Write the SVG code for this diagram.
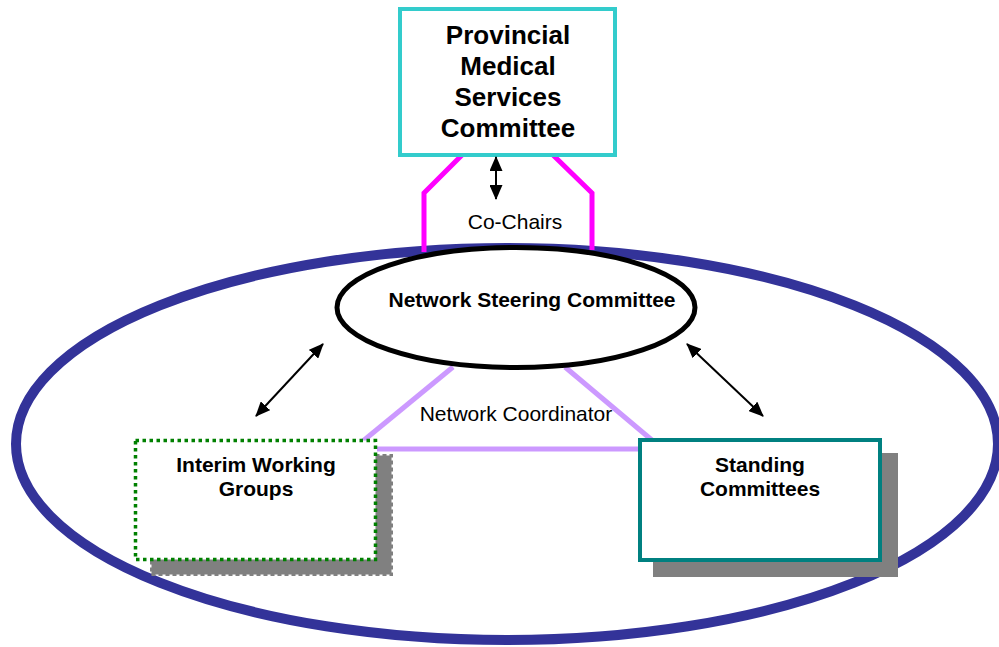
<svg xmlns="http://www.w3.org/2000/svg" width="999" height="647" viewBox="0 0 999 647">
  <style>
    .lbl { font-family: "Liberation Sans", Arial, sans-serif; fill: #000; text-anchor: middle; }
    .b { font-weight: bold; }
    .coord { fill: none; stroke: #CC99FF; stroke-width: 5; }
    .chair { fill: none; stroke: #FF00FF; stroke-width: 5; }
    .arrow { fill: none; stroke: #000; stroke-width: 2; marker-start: url(#ah); marker-end: url(#ah); }
    .shadow { fill: #808080; }
  </style>
  <defs>
    <marker id="ah" viewBox="0 0 15 13" refX="14" refY="6.5" markerWidth="15" markerHeight="13" markerUnits="userSpaceOnUse" orient="auto-start-reverse">
      <path d="M0,0 L15,6.5 L0,13 z" fill="#000"/>
    </marker>
  </defs>
  <rect width="999" height="647" fill="#fff"/>

  <!-- network boundary -->
  <g id="network">
    <ellipse cx="507" cy="444" rx="491" ry="196" fill="none" stroke="#333399" stroke-width="10"/>
  </g>

  <!-- coordinator triangle -->
  <g id="coordinator-links">
    <path class="coord" d="M453,367 L363,441"/>
    <path class="coord" d="M565,367 L653,441"/>
    <path class="coord" d="M377,449 L640,449"/>
  </g>

  <g id="interim-working-groups">
    <rect class="shadow" x="151.5" y="455.5" width="240" height="119" stroke="#808080" stroke-width="3" stroke-dasharray="4 3"/>
    <rect x="135.5" y="440.5" width="240" height="119" fill="#fff" stroke="#008000" stroke-width="3.5" stroke-dasharray="3.5 3.5"/>
    <text class="lbl b" font-size="21" x="256" y="472">Interim Working</text>
    <text class="lbl b" font-size="21" x="256" y="496">Groups</text>
  </g>

  <g id="standing-committees">
    <rect class="shadow" x="653" y="453" width="245" height="124"/>
    <rect x="640" y="440" width="240" height="120" fill="#fff" stroke="#008080" stroke-width="4"/>
    <text class="lbl b" font-size="21" x="760" y="472">Standing</text>
    <text class="lbl b" font-size="21" x="760" y="496">Committees</text>
  </g>

  <!-- co-chair links -->
  <g id="co-chair-links">
    <path class="chair" d="M462,155 L424,193 L424,252"/>
    <path class="chair" d="M553,155 L592,193 L592,250"/>
  </g>

  <g id="network-steering-committee">
    <ellipse cx="516" cy="307.5" rx="179" ry="60" fill="#fff" stroke="#000" stroke-width="5"/>
    <text class="lbl b" font-size="21" x="532" y="307">Network Steering Committee</text>
  </g>

  <g id="provincial-medical-services-committee">
    <rect x="400" y="9" width="215" height="146" fill="#fff" stroke="#33CCCC" stroke-width="4"/>
    <text class="lbl b" font-size="26" x="508" y="44">Provincial</text>
    <text class="lbl b" font-size="26" x="508" y="75">Medical</text>
    <text class="lbl b" font-size="26" x="508" y="106">Services</text>
    <text class="lbl b" font-size="26" x="508" y="137">Committee</text>
  </g>

  <!-- connectors -->
  <g id="connectors">
    <line class="arrow" x1="496" y1="157" x2="496" y2="199"/>
    <line class="arrow" x1="323" y1="344" x2="256" y2="416"/>
    <line class="arrow" x1="687" y1="344" x2="763" y2="416"/>
  </g>

  <g id="labels">
    <text class="lbl" font-size="21" x="515" y="229">Co-Chairs</text>
    <text class="lbl" font-size="21" x="516" y="421">Network Coordinator</text>
  </g>
</svg>
